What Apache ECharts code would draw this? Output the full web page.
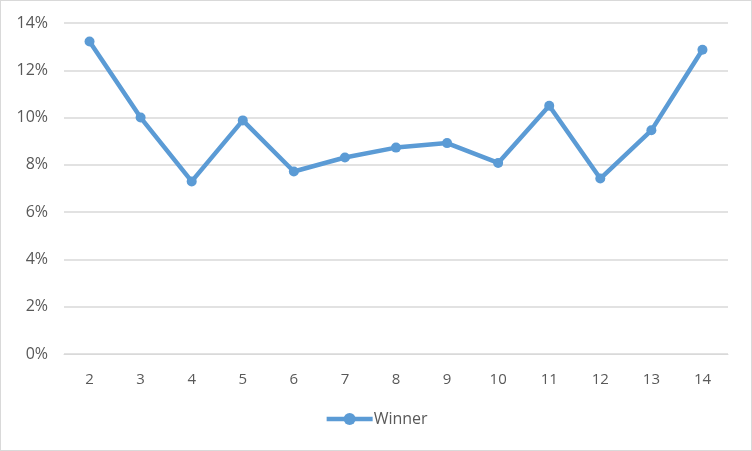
<!DOCTYPE html>
<html><head><meta charset="utf-8">
<script src="https://cdn.jsdelivr.net/npm/echarts@6/dist/echarts.min.js"></script>
<style>html,body{margin:0;padding:0;background:#fff}#c{width:752px;height:451px;box-sizing:border-box;border:1px solid #d9d9d9}</style>
</head><body><div id="c"></div>
<script>
const categories = ['2','3','4','5','6','7','8','9','10','11','12','13','14'];
const winner = [13.22, 10.0, 7.3, 9.88, 7.72, 8.31, 8.73, 8.92, 8.08, 10.5, 7.42, 9.46, 12.87];
const seriesName = 'Winner';
const chart = echarts.init(document.getElementById('c'));
chart.setOption({
  animation: false,
  grid: {left: 63, right: 23, top: 22, bottom: 96},
  legend: {bottom: 18, left: 'center', itemWidth: 46, itemHeight: 15, itemGap: 10,
    lineStyle: {width: 4.5, color: '#5b9bd5'},
    textStyle: {color: '#595959', fontSize: 16, fontFamily: 'Open Sans, Calibri, sans-serif', padding: [0,0,0,-4]},
    data: [seriesName]},
  xAxis: {type: 'category', data: categories, boundaryGap: true,
    axisLine: {lineStyle: {color: '#d9d9d9'}}, axisTick: {show: false},
    axisLabel: {color: '#595959', fontSize: 15, margin: 18, fontFamily: 'Open Sans, Calibri, sans-serif'}},
  yAxis: {type: 'value', min: 0, max: 14, interval: 2,
    axisLine: {show: false}, axisTick: {show: false},
    splitLine: {lineStyle: {color: '#d9d9d9', width: 1.5}},
    axisLabel: {color: '#595959', fontSize: 16, margin: 16, formatter: v => v + '%', fontFamily: 'Open Sans, Calibri, sans-serif'}},
  series: [{name: seriesName, type: 'line', data: winner, symbol: 'circle', symbolSize: 10,
    lineStyle: {color: '#5b9bd5', width: 4.5}, itemStyle: {color: '#5b9bd5'}}]
});
</script></body></html>
